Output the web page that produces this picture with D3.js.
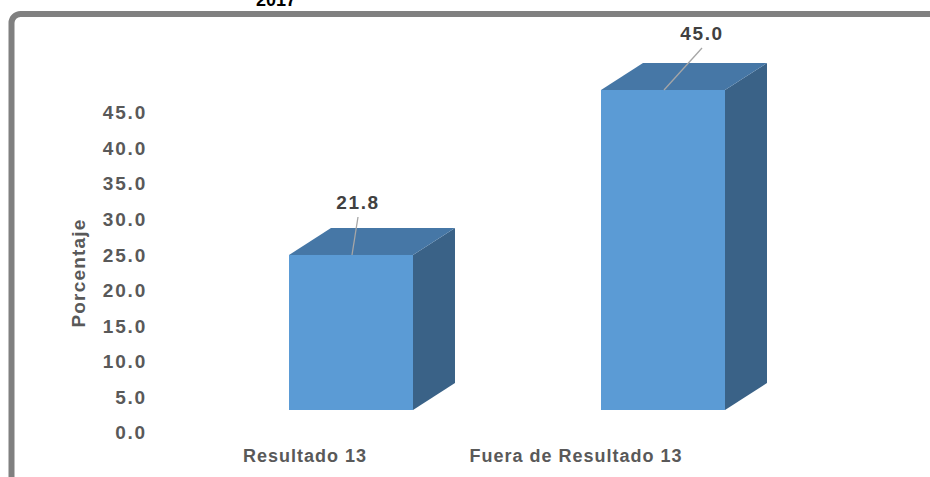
<!DOCTYPE html>
<html>
<head>
<meta charset="utf-8">
<script src="https://cdn.jsdelivr.net/npm/d3@7"></script>
<style>
  body { margin: 0; padding: 0; background: #fff; }
  svg { display: block; }
  text { font-family: "Liberation Sans", Arial, sans-serif; font-weight: bold; }
</style>
</head>
<body>
<svg id="chart" width="930" height="477"></svg>
<script>
var categories = ['Resultado 13', 'Fuera de Resultado 13'];
var values = [21.8, 45.0];
var tickValues = [0, 5, 10, 15, 20, 25, 30, 35, 40, 45];
var title = '2017';
var yTitle = 'Porcentaje';

function chartSetup() {
  var svg = d3.select('#chart');
  var depthX = 42, depthY = -27;
  var front = '#5B9BD5', top = '#4677A6', side = '#3A6287';
  var gray = '#595959';

  var x = d3.scaleBand()
    .domain(categories)
    .range([133, 881])
    .paddingInner(0.6026)
    .paddingOuter(0.5);

  var y = d3.scaleLinear()
    .domain([0, 45])
    .range([410, 90]);

  // frame, only top and left edge are inside the picture
  svg.append('rect')
    .attr('x', 11.5).attr('y', 14)
    .attr('width', 1000).attr('height', 1000)
    .attr('rx', 9)
    .attr('fill', 'none')
    .attr('stroke', '#808080')
    .attr('stroke-width', 6);

  svg.append('text')
    .attr('x', 276).attr('y', 6)
    .attr('text-anchor', 'middle')
    .style('font-size', '18px')
    .style('fill', '#000')
    .text(title);

  // y axis labels (Excel draws them a little lower than the bar fronts)
  var axis = svg.append('g')
    .attr('transform', 'translate(147,22)')
    .call(d3.axisLeft(y).tickValues(tickValues).tickSize(0).tickPadding(0)
      .tickFormat(d3.format('.1f')));
  axis.select('.domain').remove();
  axis.selectAll('text')
    .attr('dy', '0.36em')
    .style('font-family', '"Liberation Sans", Arial, sans-serif')
    .style('font-weight', 'bold')
    .style('font-size', '19px')
    .style('letter-spacing', '1.8px')
    .style('fill', gray);

  svg.append('text')
    .attr('transform', 'translate(85,273) rotate(-90)')
    .attr('text-anchor', 'middle')
    .style('font-size', '19px')
    .style('letter-spacing', '1.2px')
    .style('fill', gray)
    .text(yTitle);

  var bars = svg.selectAll('g.bar')
    .data(values)
    .enter()
    .append('g')
    .attr('class', 'bar');

  bars.append('path')
    .attr('fill', side)
    .attr('d', function(d, i) {
      var x1 = x(categories[i]) + x.bandwidth();
      return 'M' + x1 + ',' + y(d) + 'L' + (x1 + depthX) + ',' + (y(d) + depthY) +
        'L' + (x1 + depthX) + ',' + (y(0) + depthY) + 'L' + x1 + ',' + y(0) + 'Z';
    });

  bars.append('path')
    .attr('fill', top)
    .attr('d', function(d, i) {
      var x0 = x(categories[i]), x1 = x0 + x.bandwidth();
      return 'M' + x0 + ',' + y(d) + 'L' + (x0 + depthX) + ',' + (y(d) + depthY) +
        'L' + (x1 + depthX) + ',' + (y(d) + depthY) + 'L' + x1 + ',' + y(d) + 'Z';
    });

  bars.append('rect')
    .attr('fill', front)
    .attr('x', function(d, i) { return x(categories[i]); })
    .attr('y', function(d) { return y(d); })
    .attr('width', x.bandwidth())
    .attr('height', function(d) { return y(0) - y(d); });

  // data labels were dragged a bit in the original
  var labelShift = [[7, -46], [39, -50]];
  bars.append('line')
    .attr('x1', function(d, i) { return x(categories[i]) + x.bandwidth() / 2 + 1; })
    .attr('y1', function(d) { return y(d); })
    .attr('x2', function(d, i) { return x(categories[i]) + x.bandwidth() / 2 + labelShift[i][0]; })
    .attr('y2', function(d, i) { return y(d) + labelShift[i][1] + 8; })
    .attr('stroke', '#a6a6a6')
    .attr('stroke-width', 1.3);

  bars.append('text')
    .attr('x', function(d, i) { return x(categories[i]) + x.bandwidth() / 2 + labelShift[i][0]; })
    .attr('y', function(d, i) { return y(d) + labelShift[i][1]; })
    .attr('text-anchor', 'middle')
    .style('font-size', '19px')
    .style('letter-spacing', '1.6px')
    .style('fill', '#404040')
    .text(function(d) { return d3.format('.1f')(d); });

  var catShift = [-46, -87];
  svg.selectAll('text.cat')
    .data(categories)
    .enter()
    .append('text')
    .attr('class', 'cat')
    .attr('x', function(d, i) { return x(d) + x.bandwidth() / 2 + catShift[i]; })
    .attr('y', 462)
    .attr('text-anchor', 'middle')
    .style('font-size', '18px')
    .style('letter-spacing', '1px')
    .style('fill', gray)
    .text(function(d) { return d; });
}

chartSetup();
</script>
</body>
</html>
